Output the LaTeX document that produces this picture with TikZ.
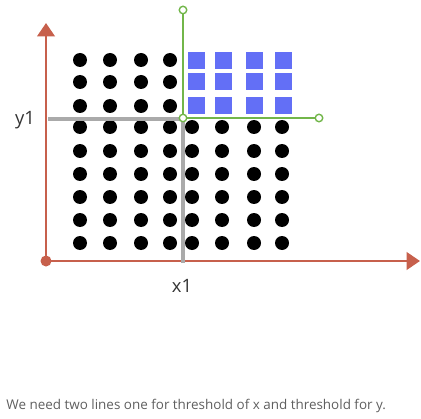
\documentclass[tikz,border=0pt]{standalone}
\usepackage{fontspec}
\setmainfont{Open Sans}
\usetikzlibrary{arrows.meta}
\definecolor{axisred}{RGB}{199,96,76}
\definecolor{boxblue}{RGB}{99,111,246}
\definecolor{threshgreen}{RGB}{114,182,74}
\definecolor{threshgray}{RGB}{170,170,170}
\definecolor{capgray}{RGB}{95,95,95}

\begin{document}
\begin{tikzpicture}[x=0.02cm,y=-0.02cm,
 dot/.style={circle,fill=black,inner sep=0pt,minimum size=0.28cm},
 sq/.style={fill=boxblue,inner sep=0pt,minimum size=0.34cm},
 ring/.style={circle,draw=threshgreen,fill=white,line width=0.8pt,inner sep=0pt,minimum size=0.15cm},
 axis/.style={draw=axisred,line width=1.7pt,-{Triangle[length=2.7mm,width=3.5mm]}},
 lbl/.style={font=\fontsize{10.5}{12}\selectfont,text=black!80},
]
\useasboundingbox (0,0) rectangle (421,418);

% axes
\node (o)[circle,fill=axisred,inner sep=0pt,minimum size=0.22cm] at (46,261) {};
\coordinate (ytop) at (46,23);
\coordinate (xend) at (420,261);
\draw[axis] (o.center) -- (ytop);
\draw[axis] (o.center) -- (xend);

% points below / left of the thresholds
\foreach \x [count=\i] in {80,110,141,170}
  \foreach \y [count=\j] in {60,82,106,127,151,174,197,220,243}
    \node (d\i\j)[dot] at (\x,\y) {};
\foreach \x [count=\i from 5] in {192,222,254,282}
  \foreach \y [count=\j from 4] in {127,151,174,197,220,243}
    \node (d\i\j)[dot] at (\x,\y) {};

% points above both thresholds
\foreach \x [count=\i] in {196,223,254,283}
  \foreach \y [count=\j] in {61,82,106}
    \node (b\i\j)[sq] at (\x,\y) {};

% gray thresholds
\coordinate (gy) at (48,119);
\coordinate (gc) at (183,119);
\coordinate (gx) at (183,263);
\draw[threshgray,line width=2.8pt] (gy) -- (gc) -- (gx);

% green thresholds
\node (g0)[ring] at (183,118) {};
\node (g1)[ring] at (183,10) {};
\node (g2)[ring] at (319,118) {};
\draw[threshgreen,line width=0.85pt] (g0) -- (g1)
                                     (g0) -- (g2);

\node (y1)[lbl] at (25,120) {y1};
\node (x1)[lbl] at (182,286) {x1};

\node (cap)[anchor=west,inner sep=0pt,text=capgray,font=\fontsize{7.65}{9}\selectfont] at (6,406)
  {We need two lines one for threshold of x and threshold for y.};
\end{tikzpicture}
\end{document}
